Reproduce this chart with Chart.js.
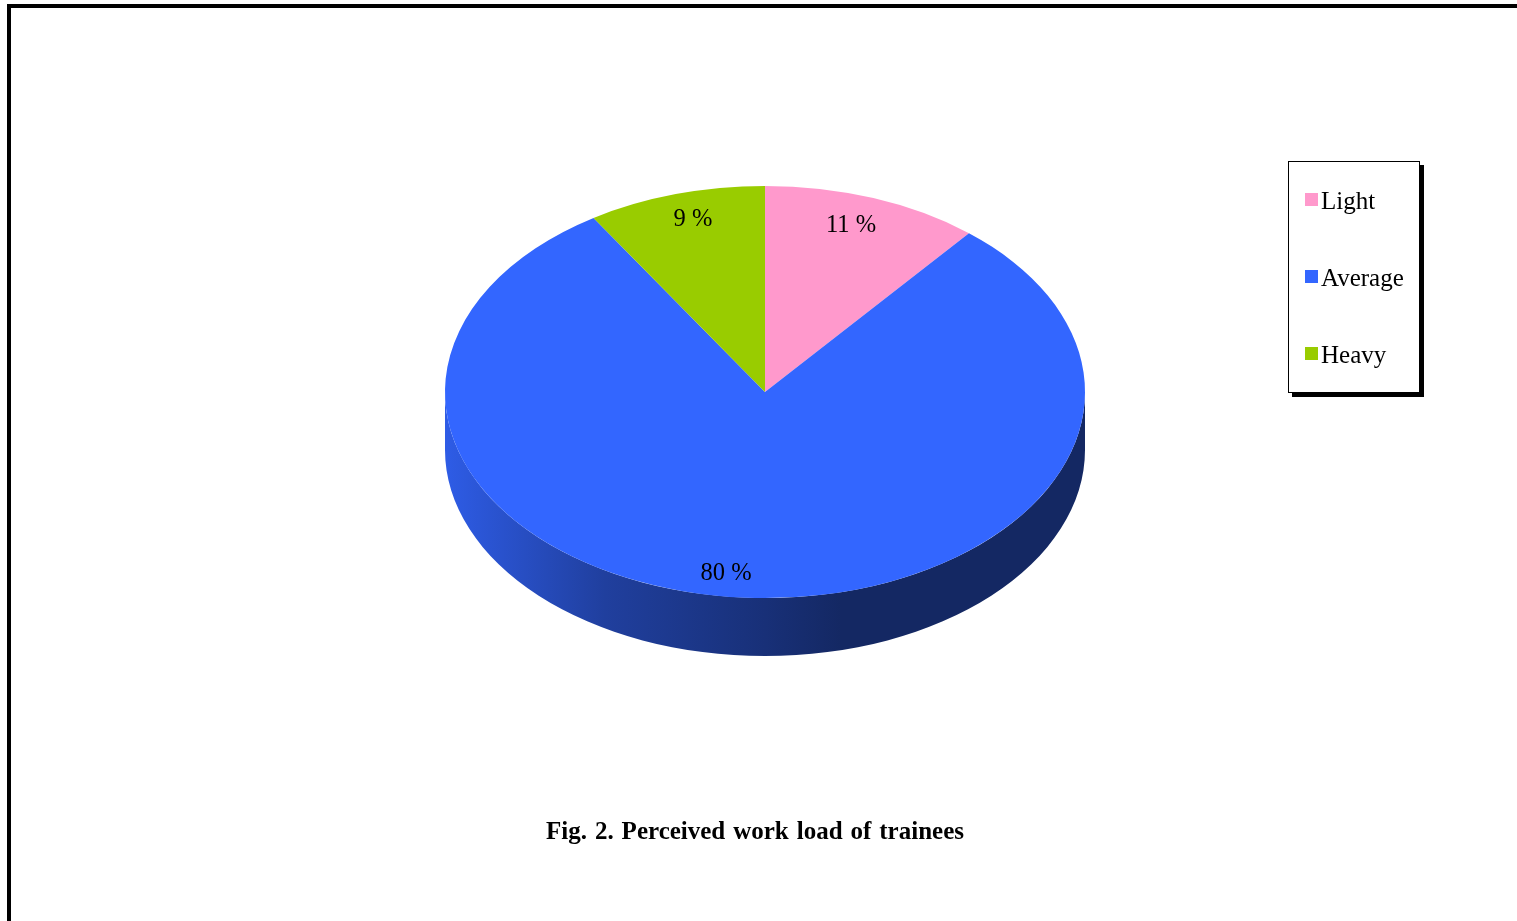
<!DOCTYPE html>
<html>
<head>
<meta charset="utf-8">
<title>Perceived work load of trainees</title>
<script src="https://cdn.jsdelivr.net/npm/chart.js@4"></script>
<style>
  body { margin: 0; background: #fff; width: 1517px; height: 921px; overflow: hidden; position: relative; font-family: "Liberation Serif", serif; color: #000; }
  #frame { position: absolute; left: 7px; top: 4px; width: 1600px; height: 1000px; border-top: 4px solid #000; border-left: 4px solid #000; }
  #chart { position: absolute; left: 0; top: 0; }
  #legend { position: absolute; left: 1288px; top: 161px; width: 130px; height: 230px; border: 1.5px solid #000; box-shadow: 4px 4px 0 #000; background: #fff; }
  #legend div { position: absolute; left: 32px; font-size: 25px; line-height: 28px; white-space: nowrap; }
  #legend i { position: absolute; left: -16px; top: 6px; width: 13px; height: 13px; }
  #caption { position: absolute; left: 455px; width: 600px; top: 817px; text-align: center; font-weight: bold; font-size: 25px; line-height: 28px; word-spacing: 1.7px; }
</style>
</head>
<body>
<div id="frame"></div>
<canvas id="chart" width="1517" height="921"></canvas>
<div id="legend"></div>
<div id="caption">Fig. 2. Perceived work load of trainees</div>
<script>
const categories = ['Light', 'Average', 'Heavy'];
const percentages = [11, 80, 9];
const sliceColors = ['#FF99CC', '#3366FF', '#99CC00'];

// pie is drawn round by chart.js then squashed to the 3d look
const squash = 0.644;
const depth = 58;
const sideShades = [[0, 0.9], [0.25, 0.62], [0.5, 0.47], [0.62, 0.39], [1, 0.39]];
const labelNudges = [[-5, -4], [-22, 9], [3, -6]];

const shade = (hex, f) => {
  const n = parseInt(hex.slice(1), 16);
  return `rgb(${Math.round((n >> 16) * f)}, ${Math.round(((n >> 8) & 255) * f)}, ${Math.round((n & 255) * f)})`;
};

const pie3d = {
  id: 'pie3d',
  beforeDatasetsDraw(chart) {
    const { ctx } = chart;
    const arcs = chart.getDatasetMeta(0).data;
    const cx = arcs[0].x, cy = arcs[0].y, r = arcs[0].outerRadius;

    // side wall, only the part facing the viewer
    arcs.forEach((arc, i) => {
      const a0 = Math.max(arc.startAngle, 0);
      const a1 = Math.min(arc.endAngle, Math.PI);
      if (a1 <= a0) return;
      const grad = ctx.createLinearGradient(cx - r, 0, cx + r, 0);
      sideShades.forEach(([stop, f]) => grad.addColorStop(stop, shade(sliceColors[i], f)));
      ctx.beginPath();
      ctx.ellipse(cx, cy, r, r * squash, 0, a0, a1);
      ctx.ellipse(cx, cy + depth, r, r * squash, 0, a1, a0, true);
      ctx.closePath();
      ctx.fillStyle = grad;
      ctx.fill();
    });

    ctx.save();
    ctx.translate(cx, cy);
    ctx.scale(1, squash);
    ctx.translate(-cx, -cy);
  },
  afterDatasetsDraw(chart) {
    const { ctx } = chart;
    ctx.restore();

    chart.getDatasetMeta(0).data.forEach((arc, i) => {
      const mid = (arc.startAngle + arc.endAngle) / 2;
      const r = arc.outerRadius * 0.84;
      const x = arc.x + Math.cos(mid) * r + labelNudges[i][0];
      const y = arc.y + Math.sin(mid) * r * squash + labelNudges[i][1];
      ctx.font = '24.5px "Liberation Serif", serif';
      ctx.fillStyle = '#000';
      ctx.textAlign = 'center';
      ctx.textBaseline = 'middle';
      ctx.fillText(percentages[i] + ' %', x, y);
    });
  }
};

// html legend, built from the chart's own legend items
const htmlLegend = {
  id: 'htmlLegend',
  afterUpdate(chart) {
    const box = document.getElementById('legend');
    box.innerHTML = '';
    const items = Chart.overrides.pie.plugins.legend.labels.generateLabels(chart);
    items.forEach((item, i) => {
      const row = document.createElement('div');
      row.style.top = (25 + i * 77) + 'px';
      const swatch = document.createElement('i');
      swatch.style.background = item.fillStyle;
      row.appendChild(swatch);
      row.appendChild(document.createTextNode(item.text));
      box.appendChild(row);
    });
  }
};

new Chart(document.getElementById('chart'), {
  type: 'pie',
  data: {
    labels: categories,
    datasets: [{
      data: percentages,
      backgroundColor: sliceColors,
      borderWidth: 0
    }]
  },
  options: {
    responsive: false,
    animation: false,
    radius: 320,
    layout: { padding: { left: 13, right: 0, top: 0, bottom: 137 } },
    plugins: {
      legend: { display: false },
      tooltip: { enabled: false }
    }
  },
  plugins: [pie3d, htmlLegend]
});
</script>
</body>
</html>
